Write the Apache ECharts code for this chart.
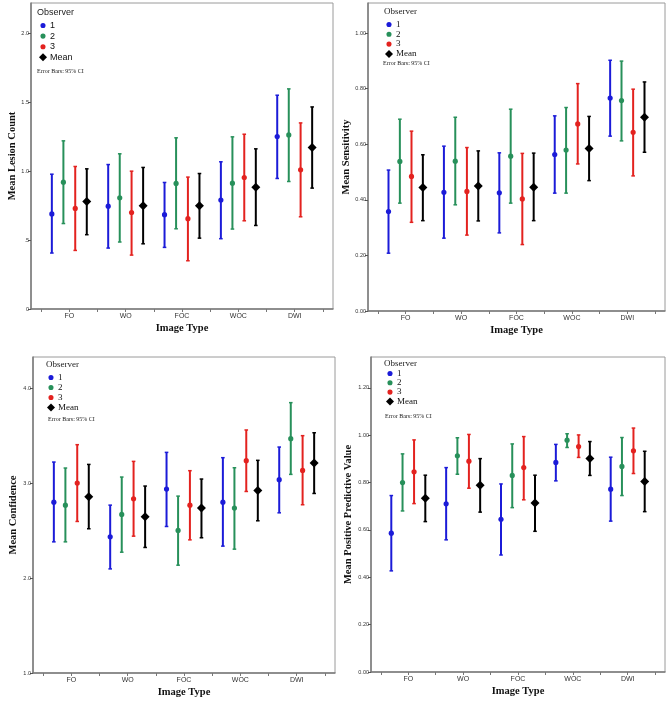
<!DOCTYPE html>
<html><head><meta charset="utf-8">
<script src="https://cdn.jsdelivr.net/npm/echarts@6/dist/echarts.min.js"></script>
<style>html,body{margin:0;padding:0;background:#fff}#c{width:666px;height:708px}</style>
</head><body><div id="c"></div><script>
const imageTypes = ['FO', 'WO', 'FOC', 'WOC', 'DWI'];
const observers = ['1', '2', '3', 'Mean'];

// rows: observer 1, 2, 3, Mean ; columns: FO, WO, FOC, WOC, DWI
const lesionMean = [[0.69, 0.746, 0.684, 0.79, 1.251], [0.92, 0.807, 0.911, 0.913, 1.263], [0.73, 0.70, 0.655, 0.954, 1.01], [0.78, 0.749, 0.749, 0.884, 1.171]];
const lesionLow  = [[0.406, 0.442, 0.447, 0.51, 0.947], [0.62, 0.486, 0.582, 0.58, 0.925], [0.425, 0.391, 0.35, 0.64, 0.669], [0.539, 0.473, 0.514, 0.606, 0.877]];
const lesionHigh = [[0.978, 1.048, 0.918, 1.068, 1.551], [1.22, 1.126, 1.242, 1.249, 1.597], [1.034, 1.0, 0.957, 1.268, 1.35], [1.017, 1.027, 0.983, 1.162, 1.466]];

const sensMean = [[0.358, 0.427, 0.425, 0.563, 0.766], [0.538, 0.539, 0.557, 0.579, 0.757], [0.484, 0.43, 0.403, 0.673, 0.643], [0.444, 0.45, 0.445, 0.585, 0.697]];
const sensLow  = [[0.208, 0.262, 0.281, 0.424, 0.629], [0.388, 0.382, 0.388, 0.424, 0.612], [0.319, 0.273, 0.239, 0.529, 0.486], [0.325, 0.324, 0.325, 0.469, 0.571]];
const sensHigh = [[0.507, 0.593, 0.569, 0.702, 0.902], [0.69, 0.697, 0.726, 0.732, 0.899], [0.647, 0.588, 0.567, 0.818, 0.798], [0.562, 0.576, 0.568, 0.70, 0.824]];

const confMean = [[2.80, 2.435, 2.938, 2.80, 3.037], [2.769, 2.671, 2.502, 2.738, 3.469], [3.001, 2.836, 2.769, 3.237, 3.135], [2.857, 2.646, 2.738, 2.924, 3.212]];
const confLow  = [[2.382, 2.097, 2.544, 2.337, 2.688], [2.382, 2.273, 2.136, 2.305, 3.093], [2.597, 2.442, 2.403, 2.913, 2.773], [2.52, 2.323, 2.425, 2.604, 2.892]];
const confHigh = [[3.223, 2.769, 3.325, 3.269, 3.381], [3.16, 3.065, 2.864, 3.163, 3.849], [3.406, 3.23, 3.132, 3.561, 3.501], [3.198, 2.97, 3.044, 3.241, 3.532]];

const ppvMean = [[0.586, 0.71, 0.645, 0.885, 0.772], [0.80, 0.913, 0.83, 0.979, 0.868], [0.845, 0.89, 0.863, 0.952, 0.934], [0.734, 0.789, 0.714, 0.901, 0.804]];
const ppvLow  = [[0.427, 0.558, 0.494, 0.807, 0.637], [0.68, 0.835, 0.694, 0.948, 0.745], [0.711, 0.776, 0.727, 0.906, 0.838], [0.635, 0.675, 0.594, 0.83, 0.677]];
const ppvHigh = [[0.745, 0.863, 0.794, 0.961, 0.907], [0.921, 0.989, 0.963, 1.006, 0.99], [0.98, 1.003, 0.994, 1.001, 1.03], [0.831, 0.901, 0.831, 0.973, 0.932]];

const lesionTicks = [0, 0.5, 1.0, 1.5, 2.0];
const sensTicks = [0, 0.2, 0.4, 0.6, 0.8, 1.0];
const confTicks = [1.0, 2.0, 3.0, 4.0];
const ppvTicks = [0, 0.2, 0.4, 0.6, 0.8, 1.0, 1.2];

const colors = ['#1b1bd8', '#27905a', '#e3221f', '#000000'];
const offsets = [-0.31, -0.105, 0.105, 0.31];
const serif = 'Liberation Serif';
const sans = 'Liberation Sans';

const panels = [
  {yName: 'Mean Lesion Count', mean: lesionMean, low: lesionLow, high: lesionHigh, ticks: lesionTicks,
   min: 0, max: 2.22, fmt: v => v === 0 ? '0' : (v < 1 ? v.toFixed(1).replace(/^0/, '') : v.toFixed(1)),
   grid: {left: 31, top: 3, width: 302, height: 306}, yGap: 12, legend: {left: 39, top: 21, gap: 1.6}, legFont: sans,
   obs: {x: 37, y: 8}, err: {x: 37, y: 68}},
  {yName: 'Mean Sensitivity', mean: sensMean, low: sensLow, high: sensHigh, ticks: sensTicks,
   min: 0, max: 1.108, fmt: v => v.toFixed(2),
   grid: {left: 368, top: 3, width: 297, height: 308}, yGap: 14, legend: {left: 385, top: 20, gap: 0.8}, legFont: serif,
   obs: {x: 384, y: 7}, err: {x: 383, y: 60}},
  {yName: 'Mean Confidence', mean: confMean, low: confLow, high: confHigh, ticks: confTicks,
   min: 1.0, max: 4.33, fmt: v => v.toFixed(1),
   grid: {left: 33, top: 357, width: 302, height: 316}, yGap: 14, legend: {left: 47, top: 373, gap: 1}, legFont: serif,
   obs: {x: 46, y: 360}, err: {x: 48, y: 416}},
  {yName: 'Mean Positive Predictive Value', mean: ppvMean, low: ppvLow, high: ppvHigh, ticks: ppvTicks,
   min: 0, max: 1.33, fmt: v => v.toFixed(2),
   grid: {left: 371, top: 357, width: 294, height: 315}, yGap: 17, legend: {left: 386, top: 369, gap: 0.3}, legFont: serif,
   obs: {x: 384, y: 359}, err: {x: 385, y: 413}}
];

const circleIcon = 'path://M0,0M10,10M5,1.8A3.2,3.2,0,1,1,4.99,1.8Z';

function makeRender(o) {
  return function (params, api) {
    const ci = api.value(0);
    const unit = api.size([1, 0])[0];
    const pm = api.coord([ci, api.value(1)]);
    const pl = api.coord([ci, api.value(2)]);
    const ph = api.coord([ci, api.value(3)]);
    const x = pm[0] + offsets[o] * unit;
    const y = pm[1];
    const c = colors[o];
    const cap = 1.8;
    const children = [
      {type: 'line', shape: {x1: x, y1: pl[1], x2: x, y2: ph[1]}, style: {stroke: c, lineWidth: 2}},
      {type: 'line', shape: {x1: x - cap, y1: ph[1], x2: x + cap, y2: ph[1]}, style: {stroke: c, lineWidth: 1.5}},
      {type: 'line', shape: {x1: x - cap, y1: pl[1], x2: x + cap, y2: pl[1]}, style: {stroke: c, lineWidth: 1.5}}
    ];
    if (o === 3) {
      children.push({type: 'polygon', shape: {points: [[x, y - 4.5], [x + 4.5, y], [x, y + 4.5], [x - 4.5, y]]}, style: {fill: c}});
    } else {
      children.push({type: 'circle', shape: {cx: x, cy: y, r: 2.6}, style: {fill: c}});
    }
    return {type: 'group', children};
  };
}

const option = {
  animation: false,
  backgroundColor: '#fff',
  grid: [], xAxis: [], yAxis: [], series: [], legend: [], graphic: []
};

panels.forEach((p, k) => {
  option.grid.push(Object.assign({show: true, borderColor: '#9a9a9a', borderWidth: 1, backgroundColor: 'transparent'}, p.grid));
  option.xAxis.push({
    gridIndex: k, type: 'value', min: -0.68, max: 4.68,
    axisLine: {show: true, onZero: false, lineStyle: {color: '#7a7a7a', width: 1.5}},
    axisTick: {show: true, length: 3, customValues: [-0.5, 0, 0.5, 1, 1.5, 2, 2.5, 3, 3.5, 4, 4.5], lineStyle: {color: '#777'}},
    axisLabel: {customValues: [0, 1, 2, 3, 4], formatter: v => imageTypes[Math.round(v)], fontSize: 7, fontFamily: sans, color: '#333', margin: 4},
    splitLine: {show: false},
    name: 'Image Type', nameLocation: 'middle', nameGap: 14,
    nameTextStyle: {fontFamily: serif, fontWeight: 'bold', fontSize: 10.5, color: '#111'}
  });
  option.yAxis.push({
    gridIndex: k, type: 'value', min: p.min, max: p.max,
    axisLine: {show: true, onZero: false, lineStyle: {color: '#7a7a7a', width: 1.5}},
    axisTick: {show: true, length: 3, customValues: p.ticks, lineStyle: {color: '#555'}},
    axisLabel: {customValues: p.ticks, formatter: p.fmt, fontSize: 5.5, fontFamily: sans, color: '#333', margin: 2},
    splitLine: {show: false},
    name: p.yName, nameLocation: 'middle', nameGap: p.yGap,
    nameTextStyle: {fontFamily: serif, fontWeight: 'bold', fontSize: 10.5, color: '#111'}
  });
  observers.forEach((name, o) => {
    option.series.push({
      type: 'custom', name: name, xAxisIndex: k, yAxisIndex: k,
      itemStyle: {color: colors[o]},
      encode: {x: 0, y: [1, 2, 3]},
      renderItem: makeRender(o),
      data: imageTypes.map((t, i) => [i, p.mean[o][i], p.low[o][i], p.high[o][i]])
    });
  });
  option.legend.push({
    left: p.legend.left, top: p.legend.top, orient: 'vertical',
    itemWidth: 8, itemHeight: 8, itemGap: p.legend.gap, selectedMode: false, padding: 0,
    textStyle: {fontSize: 9, fontFamily: p.legFont, color: '#111', padding: [0, 0, 0, -2]},
    data: observers.map((name, o) => ({name, icon: o === 3 ? 'diamond' : circleIcon, itemStyle: {color: colors[o]}}))
  });
  option.graphic.push({type: 'text', left: p.obs.x, top: p.obs.y, style: {text: 'Observer', fontSize: 9, fontFamily: p.legFont, fill: '#222'}});
  option.graphic.push({type: 'text', left: p.err.x, top: p.err.y, style: {text: 'Error Bars: 95% CI', fontSize: 6, fontFamily: serif, fill: '#222'}});
});

const chart = echarts.init(document.getElementById('c'), null, {renderer: 'canvas'});
chart.setOption(option);
</script></body></html>
